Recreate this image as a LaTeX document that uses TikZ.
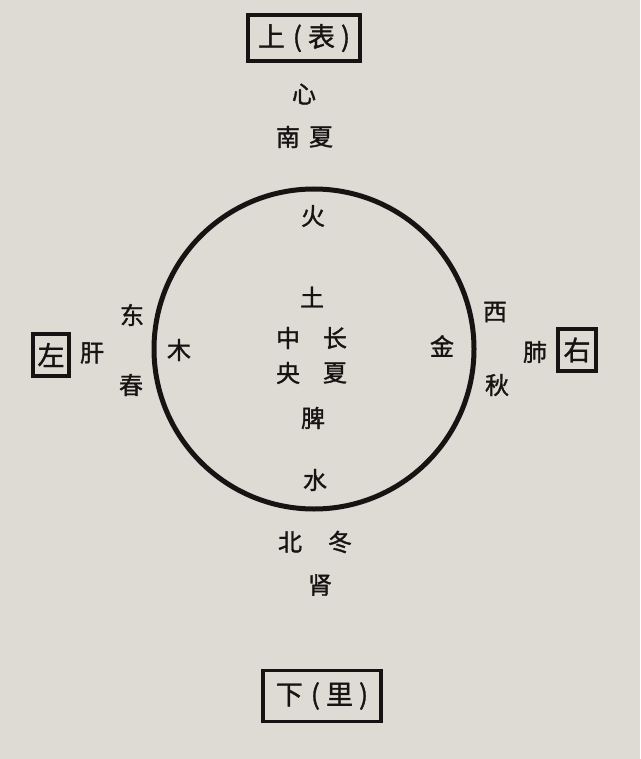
\documentclass[tikz,border=0pt]{standalone}
\usepackage{fontspec}
\setmainfont{Noto Sans CJK SC}
\newfontfamily\zhfont{Noto Sans CJK SC}[FakeBold=1.3]
\usepackage{tikz}
\usetikzlibrary{positioning}

\definecolor{paper}{RGB}{222,219,212}
\definecolor{ink}{RGB}{22,20,18}

\newcommand{\kuo}[2]{#1\hspace{8pt}(\hspace{6pt}#2\hspace{6pt})}

\tikzset{
  zi/.style={font=\fontsize{24}{24}\selectfont\zhfont, text=ink, inner sep=0pt},
  fang/.style={draw=ink, line width=3.6pt, font=\fontsize{27}{27}\selectfont\zhfont, text=ink, inner sep=0pt}
}

\begin{document}
\begin{tikzpicture}[x=1pt,y=-1pt]
  \fill[paper] (0,0) rectangle (640,759);
  \useasboundingbox (0,0) rectangle (640,759);

  % boxes
  \node[fang, minimum width=112pt, minimum height=46pt] (shang) at (304,38) {\kuo{上}{表}};
  \node[fang, minimum width=118pt, minimum height=51pt] (xia) at (322,696) {\kuo{下}{里}};
  \node[fang, minimum width=36pt, minimum height=42pt] (zuo) at (51,355) {左};
  \node[fang, minimum width=38pt, minimum height=42pt] (you) at (577,350) {右};

  % circle
  \draw[ink, line width=5pt] (314,349) circle (160);

  % top
  \node[zi] (xin) at (304,94) {心};
  \node[zi] (nan) at (288,137) {南};
  \node[zi] (xiazi) at (321,137) {夏};
  \node[zi] (huo) at (313,216) {火};

  % centre
  \node[zi] (tu) at (312,297) {土};
  \node[zi] (zhong) at (288,338) {中};
  \node[zi] (yang) at (288,373) {央};
  \node[zi] (chang) at (335,338) {长};
  \node[zi] (xiazhong) at (335,373) {夏};
  \node[zi] (pi) at (313,418) {脾};

  % bottom
  \node[zi] (shui) at (315,480) {水};
  \node[zi] (bei) at (290,542) {北};
  \node[zi] (dong) at (340,542) {冬};
  \node[zi] (shen) at (320,585) {肾};

  % left
  \node[zi] (dongfang) at (132,315) {东};
  \node[zi] (chun) at (131,385) {春};
  \node[zi] (gan) at (92,353) {肝};
  \node[zi] (mu) at (179,350) {木};

  % right
  \node[zi] (xi) at (495,312) {西};
  \node[zi] (qiu) at (497,385) {秋};
  \node[zi] (fei) at (535,352) {肺};
  \node[zi] (jin) at (442,346) {金};
\end{tikzpicture}
\end{document}
